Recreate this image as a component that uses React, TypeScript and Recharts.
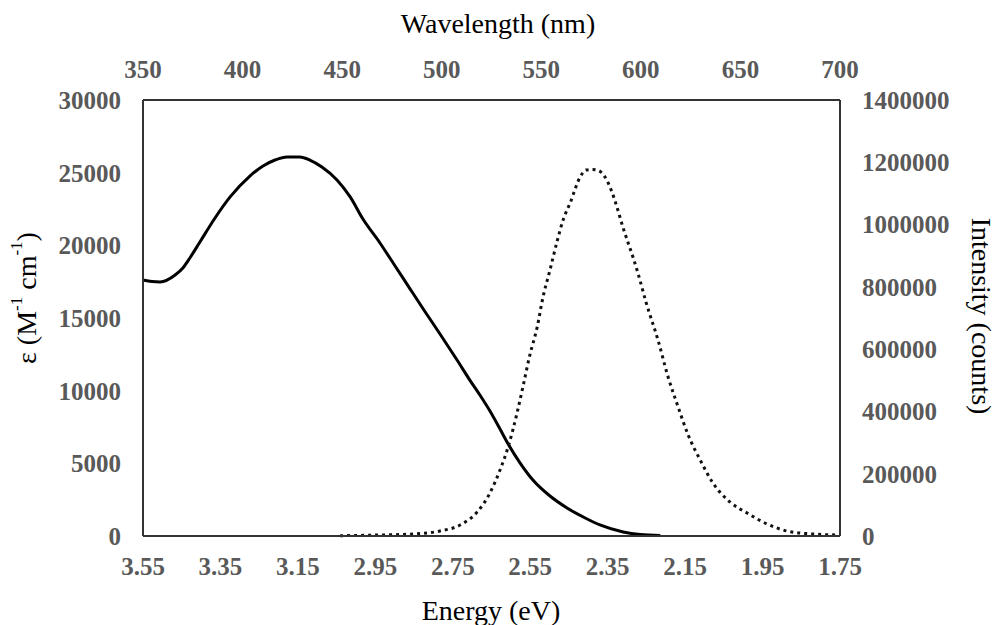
import { LineChart, Line, XAxis, YAxis, Label } from 'recharts';

// bottom axis / top axis / left / right ticks
const energyTicks = [3.55, 3.35, 3.15, 2.95, 2.75, 2.55, 2.35, 2.15, 1.95, 1.75];
const wavelengthTicks = [350, 400, 450, 500, 550, 600, 650, 700];
const epsTicks = [0, 5000, 10000, 15000, 20000, 25000, 30000];
const countTicks = [0, 200000, 400000, 600000, 800000, 1000000, 1200000, 1400000];

// absorption (solid line, left axis)
const absEnergy = [
    3.55, 3.527, 3.506, 3.467, 3.447, 3.429, 3.403, 3.364, 3.325, 3.274, 3.24, 3.209, 3.178,
    3.145, 3.119, 3.088, 3.049, 3.015, 2.982, 2.938, 2.899, 2.86, 2.822, 2.783, 2.739, 2.706,
    2.68, 2.654, 2.628, 2.607, 2.576, 2.543, 2.499, 2.455, 2.408, 2.37, 2.31, 2.266, 2.214,
];
const absEps = [
    17615, 17510, 17480, 17960, 18440, 19130, 20230, 21880, 23330, 24770, 25460, 25870, 26080,
    26080, 25870, 25390, 24500, 23330, 21810, 20160, 18580, 16990, 15450, 13900, 12110, 10730,
    9700, 8600, 7360, 6330, 5020, 3850, 2750, 1930, 1240, 760, 280, 100, 30,
];

// emission (dotted line, right axis)
const emEnergy = [
    3.041, 2.938, 2.853, 2.783, 2.731, 2.687, 2.654, 2.628, 2.607, 2.584, 2.569, 2.551, 2.532,
    2.517, 2.499, 2.481, 2.465, 2.447, 2.421, 2.406, 2.39, 2.377, 2.365, 2.339, 2.326, 2.31,
    2.297, 2.284, 2.272, 2.251, 2.22, 2.194, 2.168, 2.142, 2.111, 2.078, 2.034, 1.99, 1.938,
    1.887, 1.82, 1.75,
];
const emCounts = [
    1000, 3200, 6400, 16000, 35300, 77000, 138000, 212000, 286000, 395000, 478000, 581000, 671000,
    767000, 854000, 944000, 1015000, 1069000, 1153000, 1175000, 1177000, 1175000, 1166000, 1105000,
    1056000, 989000, 941000, 893000, 845000, 751000, 629000, 511000, 414000, 324000, 244000,
    170000, 109000, 74000, 38500, 16000, 6400, 3200,
];

const absData = absEnergy.map((e, i) => ({ e, eps: absEps[i] }));
const emData = emEnergy.map((e, i) => ({ e, counts: emCounts[i] }));
// the wavelength axis carries no series; this only registers it so its ticks render
const wlData = wavelengthTicks.map((wl) => ({ wl }));

const serif = '"Liberation Serif", "Times New Roman", serif';
const tickStyle = { fontFamily: serif, fontSize: 25, fontWeight: 700, fill: '#595959' };
const frame = { stroke: '#333', strokeWidth: 2 };

export default function App() {
    return (
        <div style={{ position: 'absolute', left: 0, top: 0, background: '#fff' }}>
            <LineChart width={997} height={625} margin={{ top: 0, right: 0, bottom: 0, left: 0 }}>
                <XAxis
                    xAxisId="e"
                    type="number"
                    dataKey="e"
                    domain={[1.75, 3.55]}
                    reversed
                    ticks={energyTicks}
                    tickFormatter={(v: number) => v.toFixed(2)}
                    interval={0}
                    height={89}
                    tickLine={false}
                    tickSize={0}
                    tickMargin={21}
                    axisLine={frame}
                    tick={tickStyle}
                >
                    <Label
                        content={() => (
                            <text x={491} y={620} textAnchor="middle" fontFamily={serif} fontSize={28} fill="#000">
                                Energy (eV)
                            </text>
                        )}
                    />
                </XAxis>
                <XAxis
                    xAxisId="wl"
                    orientation="top"
                    type="number"
                    dataKey="wl"
                    domain={[350, 700]}
                    allowDataOverflow
                    ticks={wavelengthTicks}
                    interval={0}
                    height={100}
                    tickLine={false}
                    tickSize={0}
                    tickMargin={22}
                    axisLine={frame}
                    tick={tickStyle}
                >
                    <Label
                        content={() => (
                            <text x={498} y={33} textAnchor="middle" fontFamily={serif} fontSize={28} fill="#000">
                                Wavelength (nm)
                            </text>
                        )}
                    />
                </XAxis>
                <YAxis
                    yAxisId="l"
                    domain={[0, 30000]}
                    ticks={epsTicks}
                    interval={0}
                    width={143}
                    tickLine={false}
                    tickSize={0}
                    tickMargin={22}
                    axisLine={frame}
                    tick={tickStyle}
                >
                    <Label
                        content={() => (
                            <text
                                x={26}
                                y={298}
                                transform="rotate(-90, 26, 298)"
                                textAnchor="middle"
                                dominantBaseline="central"
                                fontFamily={serif}
                                fontSize={28}
                                fill="#000"
                            >
                                ε (M
                                <tspan dy={-10} fontSize={17}>-1</tspan>
                                <tspan dy={10}> cm</tspan>
                                <tspan dy={-10} fontSize={17}>-1</tspan>
                                <tspan dy={10}>)</tspan>
                            </text>
                        )}
                    />
                </YAxis>
                <YAxis
                    yAxisId="r"
                    orientation="right"
                    domain={[0, 1400000]}
                    ticks={countTicks}
                    interval={0}
                    width={157}
                    tickLine={false}
                    tickSize={0}
                    tickMargin={22}
                    axisLine={frame}
                    tick={{ ...tickStyle, textAnchor: 'start' }}
                >
                    <Label
                        content={() => (
                            <text
                                x={981}
                                y={316}
                                transform="rotate(90, 981, 316)"
                                textAnchor="middle"
                                dominantBaseline="central"
                                fontFamily={serif}
                                fontSize={28}
                                fill="#000"
                            >
                                Intensity (counts)
                            </text>
                        )}
                    />
                </YAxis>
                <Line
                    data={wlData}
                    xAxisId="wl"
                    yAxisId="l"
                    dataKey="none"
                    stroke="none"
                    dot={false}
                    legendType="none"
                    isAnimationActive={false}
                />
                <Line
                    data={absData}
                    xAxisId="e"
                    yAxisId="l"
                    dataKey="eps"
                    type="monotone"
                    stroke="#000"
                    strokeWidth={3}
                    dot={false}
                    isAnimationActive={false}
                />
                <Line
                    data={emData}
                    xAxisId="e"
                    yAxisId="r"
                    dataKey="counts"
                    type="monotone"
                    stroke="#111"
                    strokeWidth={3}
                    strokeDasharray="3 4"
                    dot={false}
                    isAnimationActive={false}
                />
            </LineChart>
        </div>
    );
}
